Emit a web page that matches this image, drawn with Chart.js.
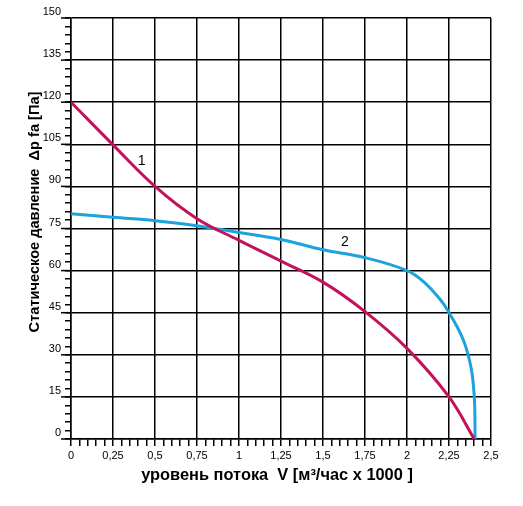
<!DOCTYPE html>
<html>
<head>
<meta charset="utf-8">
<script src="https://cdn.jsdelivr.net/npm/chart.js@4"></script>
<style>
  html, body { margin: 0; padding: 0; background: #fff; }
  canvas { display: block; }
</style>
</head>
<body>
<canvas id="chart" width="523" height="506"></canvas>
<script>
// flow, m3/h x 1000
const flow1 = [0, 0.25, 0.5, 0.75, 1.0, 1.25, 1.5, 1.75, 2.0, 2.25, 2.4]
const pressure1 = [120, 104.8, 90, 78.5, 70.8, 63.4, 55.9, 45.4, 32.3, 15, 0]

const flow2 = [0, 0.25, 0.5, 0.75, 1.0, 1.25, 1.5, 1.75, 2.0, 2.1, 2.2, 2.25, 2.3, 2.337, 2.364, 2.3825, 2.394, 2.403, 2.405]
const pressure2 = [80.3, 79.0, 77.8, 76.0, 73.6, 71.1, 67.4, 64.6, 60, 56, 49.5, 45, 39.8, 35, 30, 25, 20, 12, 0]

const curveNames = ["1", "2"]
const curveColors = ["#c4115c", "#1aa3dc"]
const namePos = [{ x: 0.42, y: 99 }, { x: 1.63, y: 70 }]

const xTitle = "уровень потока  V [м³/час x 1000 ]"
const yTitle = "Статическое давление  Δp fa [Па]"

const toPoints = (xs, ys) => xs.map((x, i) => ({ x: x, y: ys[i] }))
const isMajor = (v, step) => Math.abs(v / step - Math.round(v / step)) < 1e-6
const tickFont = { family: "'Liberation Sans', Arial, sans-serif", size: 11 }

const decorations = {
  id: "decorations",
  afterDraw(chart) {
    const { ctx, scales } = chart
    const xs = scales.x, ys = scales.y
    ctx.save()
    // longer major ticks on the y axis
    ctx.strokeStyle = "#000"
    ctx.lineWidth = 1.5
    for (let v = 0; v <= 150; v += 15) {
      const py = ys.getPixelForValue(v)
      ctx.beginPath()
      ctx.moveTo(xs.left - 10, py)
      ctx.lineTo(xs.left, py)
      ctx.stroke()
    }
    // curve numbers
    ctx.fillStyle = "#000"
    ctx.font = "14px 'Liberation Sans', Arial, sans-serif"
    ctx.textAlign = "center"
    ctx.textBaseline = "middle"
    namePos.forEach((p, i) => {
      ctx.fillText(curveNames[i], xs.getPixelForValue(p.x), ys.getPixelForValue(p.y))
    })
    // axis titles
    ctx.textBaseline = "alphabetic"
    ctx.font = "bold 16.4px 'Liberation Sans', Arial, sans-serif"
    ctx.fillText(xTitle, 277, 480)
    ctx.font = "bold 14.6px 'Liberation Sans', Arial, sans-serif"
    ctx.translate(39, 212)
    ctx.rotate(-Math.PI / 2)
    ctx.fillText(yTitle, 0, 0)
    ctx.restore()
  }
}

new Chart(document.getElementById("chart").getContext("2d"), {
  type: "scatter",
  data: {
    datasets: [
      { label: curveNames[0], data: toPoints(flow1, pressure1), borderColor: curveColors[0] },
      { label: curveNames[1], data: toPoints(flow2, pressure2), borderColor: curveColors[1] },
    ].map(d => Object.assign(d, {
      showLine: true,
      borderWidth: 3,
      pointRadius: 0,
      fill: false,
      tension: 0.4,
    })),
  },
  options: {
    responsive: false,
    animation: false,
    layout: { padding: { left: 0, top: 18, right: 32, bottom: 0 } },
    plugins: { legend: { display: false }, tooltip: { enabled: false } },
    scales: {
      x: {
        type: "linear",
        min: 0,
        max: 2.5,
        afterFit: s => { s.height = 67 },
        ticks: {
          stepSize: 0.05,
          autoSkip: false,
          maxRotation: 0,
          padding: 3,
          color: "#000",
          font: tickFont,
          callback: v => isMajor(v, 0.25) ? String(+v.toFixed(2)).replace(".", ",") : "",
        },
        grid: {
          color: c => isMajor(c.tick.value, 0.25) ? "#000" : "rgba(0,0,0,0)",
          tickColor: "#000",
          tickLength: 7,
          lineWidth: 1.5,
        },
        border: { color: "#000", width: 1.5 },
      },
      y: {
        min: 0,
        max: 150,
        afterFit: s => { s.width = 71 },
        ticks: {
          stepSize: 3,
          autoSkip: false,
          padding: 4,
          labelOffset: -6,
          color: "#000",
          font: tickFont,
          callback: v => isMajor(v, 15) ? String(v) : "",
        },
        grid: {
          color: c => isMajor(c.tick.value, 15) ? "#000" : "rgba(0,0,0,0)",
          tickColor: "#000",
          tickLength: 6,
          lineWidth: 1.5,
        },
        border: { color: "#000", width: 1.5 },
      },
    },
  },
  plugins: [decorations],
})
</script>
</body>
</html>
